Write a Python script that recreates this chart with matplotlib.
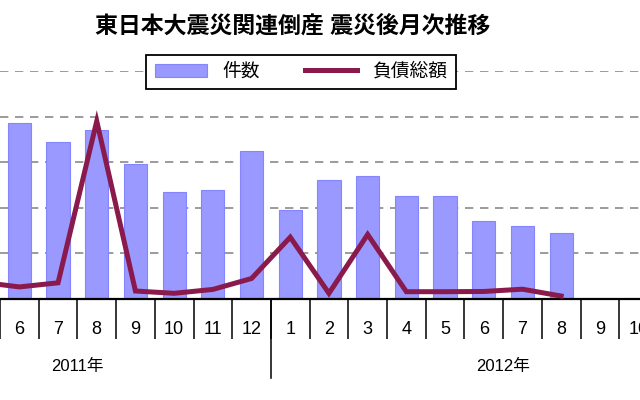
import matplotlib.pyplot as plt
import numpy as np

plt.rcParams['font.family'] = ['Liberation Sans', 'Noto Sans CJK JP']

# months from May 2011 to Dec 2012
months = ['5', '6', '7', '8', '9', '10', '11', '12',
          '1', '2', '3', '4', '5', '6', '7', '8', '9', '10', '11', '12']
counts = [np.nan, 77, 69, 74, 59, 47, 48, 65,
          39, 52, 54, 45, 45, 34, 32, 29, np.nan, np.nan, np.nan, np.nan]
debt = [74, 53, 71, 780, 35, 25, 42, 90,
        271, 25, 283, 32, 32, 33, 43, 13, np.nan, np.nan, np.nan, np.nan]
years = ['2011年', '2012年']
year_centers = [2.5, 13.5]   # Mar-Dec 2011, Jan-Dec 2012

title = '東日本大震災関連倒産 震災後月次推移'

x = np.arange(len(months))
x_lo, x_hi = 0.5, 0.5 + 640 / 38.7   # chart is cropped: first column is June 2011

fig = plt.figure(figsize=(6.4, 4), dpi=100)
ax = fig.add_axes([0, 1 - 299 / 400, 1, 228 / 400])

ax.bar(x, counts, width=0.6, color='#9999ff', edgecolor='#8585ff', linewidth=0.8,
       label='件数')
ax.set_ylim(0, 100)
ax.set_axisbelow(True)
ax.set_yticks([20, 40, 60, 80, 100])
ax.yaxis.grid(True, linestyle=(0, (5, 4)), color='#8a8a8a', linewidth=1.2)
ax.tick_params(axis='y', length=0, labelleft=False)
for s in ['top', 'right', 'left']:
    ax.spines[s].set_visible(False)
ax.spines['bottom'].set_linewidth(1.6)

ax.set_xticks(np.arange(len(months) + 1) - 0.5)
ax.set_xticklabels([])
ax.tick_params(axis='x', direction='out', length=29, width=1.1, color='black')

trans = ax.get_xaxis_transform()
for xi, m in zip(x, months):
    if x_lo < xi < x_hi + 0.5:
        ax.text(xi, -0.132, m, transform=trans, ha='center', va='center',
                fontsize=13, clip_on=False)
for xc, yl in zip(year_centers, years):
    ax.text(xc, -0.294, yl, transform=trans, ha='center', va='center',
            fontsize=12, clip_on=False)
ax.plot([7.5, 7.5], [0, -0.345], transform=trans, color='black', lw=1.1,
        clip_on=False)

ax2 = ax.twinx()
ax2.plot(x, debt, color='#8a1a4c', linewidth=3.6, label='負債総額',
         solid_joinstyle='miter')
ax2.set_ylim(0, 1000)
ax2.set_yticks([])
for s in ax2.spines.values():
    s.set_visible(False)

ax.set_xlim(x_lo, x_hi)

h1, l1 = ax.get_legend_handles_labels()
h2, l2 = ax2.get_legend_handles_labels()
leg = fig.legend(h1 + h2, l1 + l2, loc='center', bbox_to_anchor=(301 / 640, 1 - 72 / 400),
                 ncol=2, fontsize=13.5, frameon=True, fancybox=False, framealpha=1,
                 edgecolor='black', handlelength=2.8, columnspacing=2.4,
                 borderpad=0.45)
leg.get_frame().set_linewidth(1.3)

fig.text(293 / 640, 1 - 26 / 400, title, ha='center', va='center',
         fontsize=16.5, fontweight='bold')

fig.savefig('out.png', dpi=100)
